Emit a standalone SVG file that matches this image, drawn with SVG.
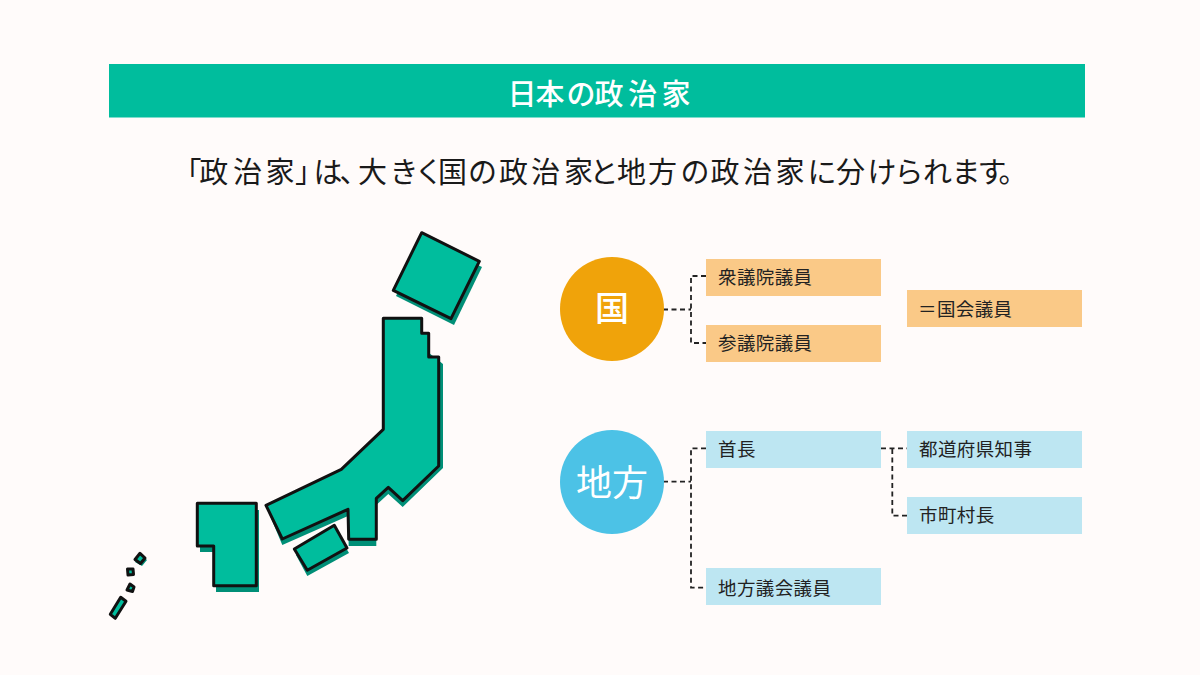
<svg xmlns="http://www.w3.org/2000/svg" width="1200" height="675" viewBox="0 0 1200 675">
<style>
text{font-family:"Noto Sans CJK JP","Noto Sans",sans-serif}
.land{fill:#00bd9d;stroke:#111;stroke-width:3;stroke-linejoin:round}
.sh{fill:#008f77}
.o{fill:#fac987}
.b{fill:#bde6f2}
.l{font-size:18.500px;fill:#222;letter-spacing:.4px;dominant-baseline:central}
.c{fill:#fff;text-anchor:middle;dominant-baseline:central}
.d{fill:none;stroke:#222;stroke-width:1.800;stroke-dasharray:5 3.500}
</style>
<rect width="1200" height="675" fill="#fffbfa"/>
<g id="banner"><rect x="109" y="64" width="976" height="53.500" fill="#00bd9d"/>
<text x="507.500 535.500 566.500 594.500 628 661.500" y="91.500" font-size="29" font-weight="500" fill="#fff" dominant-baseline="central">日本の政治家</text></g>
<text id="heading" x="172.500 199.200 233 265.500 295 313.500 339.500 358 389.500 414.500 438 468 499 531 564 589.500 617 648 680.500 710.500 743 775.500 807.500 836 867.500 894.500 923 951.500 977.500 998.500" y="169.500" font-size="29" fill="#1a1a1a" dominant-baseline="central">「政治家」は、大きく国の政治家と地方の政治家に分けられます。</text>
<g id="map">
<g id="hokkaido"><polygon class="sh" points="424,239 482,267 454,325 396,296"/><polygon class="land" points="421.700,232.700 479.300,261.300 451,318.700 393.300,290.300"/></g>
<g id="honshu"><polygon class="sh" points="400,330 443,364 443,468 402.700,507 388.300,494 376.300,505 376.300,546 348.700,546 348,516 282.300,545 268,511 400,440"/><polygon class="land" points="383.300,318.300 421.700,318.300 421.700,333.300 428.700,333.300 428.700,357 438.700,357 438.700,466 402.700,500.700 388.300,487.300 376.300,498.300 376.300,539.300 348.700,539.300 348,509.300 282.300,539 266,505.300 341.300,469.300 383.300,429.300"/></g>
<g id="shikoku"><polygon class="sh" points="336,531 349,553 307.300,576 296,555"/><polygon class="land" points="334.300,525.300 347,548 307.300,570.300 294.300,549"/></g>
<g id="kyushu"><polygon class="sh" points="200,510 259,510 259,592 216,592 216,552 200,552"/><polygon class="land" points="197.300,503.300 256.300,503.300 256.300,585.700 213.700,585.700 213.700,546 197.300,546"/></g>
<g id="islands"><polygon class="sh" points="141,555 147,560 142,566 135,562"/><polygon class="land" points="140,553.300 145,558 140.500,563.500 135,559.500"/>
<polygon class="land" points="127.500,569 133,569 133.500,574.500 128,575"/><polygon class="land" points="130,584 134,587 132.500,591.500 127,590"/>
<polygon class="land" points="120.700,597.300 126,601.300 115.300,618.300 110.300,614.300"/></g>
</g>
<g id="connectors">
<path class="d" d="M663 309.500H691M706 276H691V343H706"/>
<path class="d" d="M663 481.700H691M706 448.300H691V587.700H706"/>
<path class="d" d="M881 448.300H907M907 515.700H892.300V448.300"/>
</g>
<g id="node-kuni"><circle cx="612" cy="309" r="52" fill="#f0a30a"/><text class="c" x="612" y="306.500" font-size="34" font-weight="500">国</text></g>
<g id="node-chiho"><circle cx="612" cy="482" r="52" fill="#4cc2e6"/><text class="c" x="612" y="480" font-size="36">地方</text></g>
<g id="node-shugiin"><rect class="o" x="706" y="259" width="175" height="37"/><text class="l" x="718" y="275.500">衆議院議員</text></g>
<g id="node-sangiin"><rect class="o" x="706" y="325" width="175" height="37"/><text class="l" x="718" y="342">参議院議員</text></g>
<g id="node-kokkai"><rect class="o" x="907" y="290" width="175" height="37"/><text class="l" x="918" y="307.500">＝国会議員</text></g>
<g id="node-shucho"><rect class="b" x="706" y="431" width="175" height="37"/><text class="l" x="718" y="448">首長</text></g>
<g id="node-chiji"><rect class="b" x="907" y="431" width="175" height="37"/><text class="l" x="919" y="447.500">都道府県知事</text></g>
<g id="node-shicho"><rect class="b" x="907" y="497" width="175" height="37"/><text class="l" x="919" y="514">市町村長</text></g>
<g id="node-chihogikai"><rect class="b" x="706" y="568" width="175" height="37"/><text class="l" x="718" y="586.500">地方議会議員</text></g>
</svg>
